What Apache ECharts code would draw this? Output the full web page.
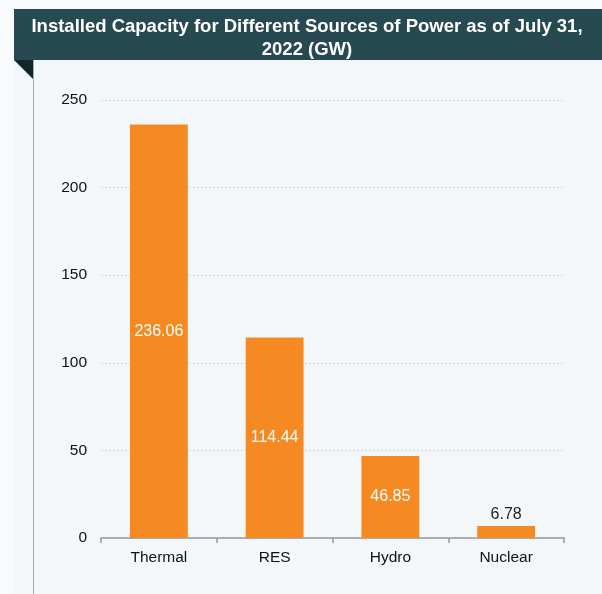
<!DOCTYPE html>
<html>
<head>
<meta charset="utf-8">
<script src="https://cdn.jsdelivr.net/npm/echarts@6/dist/echarts.min.js"></script>
<style>
  html, body { margin: 0; padding: 0; background: #f8fafb; }
  #chart { width: 602px; height: 594px; }
</style>
</head>
<body>
<div id="chart"></div>
<script>
// Installed capacity by power source (GW), as of July 31, 2022
const categories = ['Thermal', 'RES', 'Hydro', 'Nuclear'];
const capacity = [236.06, 114.44, 46.85, 6.78];
const yTicks = [0, 50, 100, 150, 200, 250];

const titleLines = ['Installed Capacity for Different Sources of Power as of July 31,', '2022 (GW)'];

const FONT = '"Liberation Sans", Arial, sans-serif';

const chart = echarts.init(document.getElementById('chart'), null, { renderer: 'canvas' });

const seriesData = capacity.map(function (v) {
  // small bars carry their value above, taller ones inside
  const small = v < 20;
  return {
    value: v,
    label: small
      ? { position: 'top', color: '#222', distance: 4 }
      : { position: 'inside', color: '#ffffff' }
  };
});

chart.setOption({
  backgroundColor: '#f8fafb',
  animation: false,
  graphic: [
    // panel background
    { type: 'rect', z: -10, shape: { x: 14, y: 9, width: 588, height: 585 }, style: { fill: '#f3f7f9' } },
    // title banner
    { type: 'rect', z: 1, shape: { x: 14, y: 9, width: 588, height: 51 }, style: { fill: '#274951' } },
    // folded corner under the banner
    { type: 'polygon', z: 1, shape: { points: [[14, 60], [33, 60], [33, 79]] }, style: { fill: '#15262a' } },
    // panel left edge
    { type: 'line', z: 1, shape: { x1: 33.5, y1: 60, x2: 33.5, y2: 594 }, style: { stroke: '#9fadb5', lineWidth: 1 } },
    {
      type: 'text', z: 2, x: 307, y: 15,
      style: {
        text: titleLines.join('\n'),
        fill: '#ffffff',
        font: 'bold 18.5px ' + FONT,
        textAlign: 'center',
        textVerticalAlign: 'top',
        lineHeight: 23
      }
    }
  ],
  grid: { left: 101, right: 38, top: 100, bottom: 56, containLabel: false },
  xAxis: {
    type: 'category',
    data: categories,
    axisLine: { lineStyle: { color: '#999999', width: 1.5 } },
    axisTick: { show: true, length: 5, lineStyle: { color: '#999999', width: 1.5 } },
    axisLabel: { color: '#111111', fontSize: 15.5, fontFamily: FONT, margin: 12 }
  },
  yAxis: {
    type: 'value',
    min: yTicks[0],
    max: yTicks[yTicks.length - 1],
    interval: yTicks[1] - yTicks[0],
    axisLine: { show: false },
    axisTick: { show: false },
    axisLabel: { color: '#111111', fontSize: 15.5, fontFamily: FONT, margin: 14 },
    splitLine: { lineStyle: { color: '#d3d8db', type: [2, 2], width: 1 } }
  },
  series: [{
    type: 'bar',
    data: seriesData,
    barWidth: '50%',
    itemStyle: { color: '#f58a22' },
    label: {
      show: true,
      fontSize: 16,
      fontFamily: FONT,
      formatter: function (p) { return p.value.toFixed(2); }
    }
  }]
});
</script>
</body>
</html>
